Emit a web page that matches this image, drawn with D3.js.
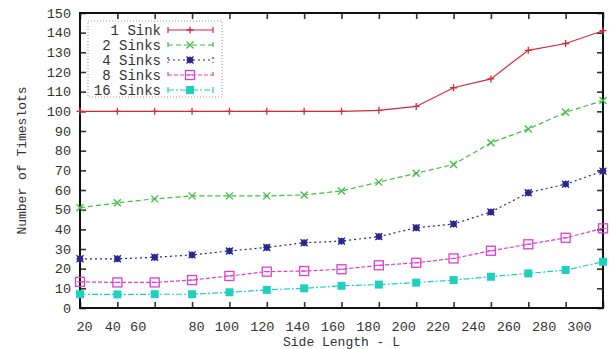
<!DOCTYPE html>
<html>
<head>
<meta charset="utf-8">
<script src="https://cdn.jsdelivr.net/npm/d3@7"></script>
<style>
  body { margin: 0; background: #fff; }
  text { font-family: "Liberation Mono", "DejaVu Sans Mono", monospace; fill: #333; }
</style>
</head>
<body>
<div class="wrapper"></div>
<script>

var xLabels = [20, 40, 60, 80, 100, 120, 140, 160, 180, 200, 220, 240, 260, 280, 300];
var yTicks = d3.range(0, 151, 10);

var seriesNames = ["1 Sink", "2 Sinks", "4 Sinks", "8 Sinks", "16 Sinks"];
var sink1 = [100, 100, 100, 100, 100, 100, 100, 100, 100.5, 102.5, 112, 116.5, 131, 134.5, 141];
var sink2 = [51, 53.5, 55.5, 57, 57, 57, 57.5, 59.5, 64, 68.5, 73, 84, 91, 99.5, 105.5];
var sink4 = [25, 25, 25.8, 27, 29, 30.8, 33.2, 34, 36.3, 40.8, 42.7, 48.8, 58.6, 63, 69.6];
var sink8 = [13.3, 13, 13, 14.2, 16.3, 18.5, 18.8, 19.7, 21.7, 23, 25.2, 29.1, 32.4, 35.7, 40.5];
var sink16 = [7, 6.9, 7, 7, 8, 9.2, 10, 11.3, 11.9, 12.9, 14.2, 15.9, 17.6, 19.3, 23.5];

var colors = ["#d42a3c", "#3fbf3f", "#262690", "#dd3fcf", "#1fd0bf"];
var dashes = ["none", "5,3", "2,3", "4,2", "6,2,2,2"];
var markers = ["plus", "cross", "star", "box", "fbox"];

var WIDTH = 610, HEIGHT = 349;
var margin = {left: 80, right: 7, top: 13, bottom: 41};

var svg = d3.select(".wrapper")
	.append("svg")
		.attr("width", WIDTH)
		.attr("height", HEIGHT);

var x = d3.scalePoint()
	.domain(xLabels)
	.range([margin.left, WIDTH - margin.right]);

var y = d3.scaleLinear()
	.domain([0, 150])
	.range([HEIGHT - margin.bottom, margin.top]);

// axes, ticks pointing inward like gnuplot
var ax = svg.append("g").attr("class", "axes");

var xAxisG = ax.append("g")
	.attr("transform", "translate(0," + y(0) + ")")
	.call(d3.axisBottom(x).tickSizeInner(-6).tickSizeOuter(0).tickPadding(13));

ax.append("g")
	.attr("transform", "translate(0," + y(150) + ")")
	.call(d3.axisTop(x).tickSizeInner(-6).tickSizeOuter(0).tickFormat(""));

ax.append("g")
	.attr("transform", "translate(" + x(20) + ",0)")
	.call(d3.axisLeft(y).tickValues(yTicks).tickSizeInner(-6).tickSizeOuter(0).tickPadding(9));

ax.append("g")
	.attr("transform", "translate(" + x(300) + ",0)")
	.call(d3.axisRight(y).tickValues(yTicks).tickSizeInner(-6).tickSizeOuter(0).tickFormat(""));

ax.selectAll(".tick line").attr("stroke", "#333").attr("stroke-width", 1.6);
ax.selectAll(".domain").remove();
ax.selectAll("text").attr("font-size", 13.5).attr("fill", "#333");

// the original's labels drift left of their ticks
var labelShift = {20: 4, 40: -5, 60: -17, 80: 4, 100: -3, 120: -5, 140: -7, 160: -9,
	180: -11, 200: -13, 220: -16, 240: -18, 260: -20, 280: -22, 300: -24};
xAxisG.selectAll(".tick text")
	.attr("dx", function(d) {return labelShift[d] || 0;});

// frame
svg.append("rect")
	.attr("x", x(20))
	.attr("y", y(150))
	.attr("width", x(300) - x(20))
	.attr("height", y(0) - y(150))
	.attr("fill", "none")
	.attr("stroke", "#111")
	.attr("stroke-width", 2);

// axis titles
svg.append("text")
	.attr("transform", "translate(26," + ((y(0) + y(150)) / 2) + ") rotate(-90)")
	.attr("text-anchor", "middle")
	.attr("font-size", 13)
	.text("Number of Timeslots");

svg.append("text")
	.attr("x", (x(20) + x(300)) / 2)
	.attr("y", 346)
	.attr("text-anchor", "middle")
	.attr("font-size", 13)
	.text("Side Length - L");

function drawMarker(g, type, color) {
	var s = 3.5;
	if (type == "plus") {
		g.append("path").attr("d", "M" + (-s) + ",0H" + s + "M0," + (-s) + "V" + s)
			.attr("stroke", color).attr("stroke-width", 1.3);
	} else if (type == "cross") {
		g.append("path").attr("d", "M" + (-s) + "," + (-s) + "L" + s + "," + s + "M" + (-s) + "," + s + "L" + s + "," + (-s))
			.attr("stroke", color).attr("stroke-width", 1.3);
	} else if (type == "star") {
		g.append("rect").attr("x", -3).attr("y", -3).attr("width", 6).attr("height", 6)
			.attr("fill", color).attr("opacity", 0.85);
		g.append("path").attr("d", "M" + (-s) + "," + (-s) + "L" + s + "," + s + "M" + (-s) + "," + s + "L" + s + "," + (-s) + "M" + (-s) + ",0H" + s + "M0," + (-s) + "V" + s)
			.attr("stroke", color).attr("stroke-width", 1.3);
	} else if (type == "box") {
		g.append("rect").attr("x", -4.5).attr("y", -4.5).attr("width", 9).attr("height", 9)
			.attr("fill", "none").attr("stroke", color).attr("stroke-width", 1.3);
		g.append("path").attr("d", "M-3,0H3").attr("stroke", color).attr("stroke-width", 1);
	} else {
		g.append("rect").attr("x", -4).attr("y", -4).attr("width", 8).attr("height", 8)
			.attr("fill", color);
	}
}

var allSeries = [sink1, sink2, sink4, sink8, sink16];

var line = d3.line()
	.x(function(d, i) {return x(xLabels[i]);})
	.y(function(d) {return y(d);});

allSeries.forEach(function(vals, k) {
	var g = svg.append("g").attr("class", "series");
	g.append("path")
		.attr("d", line(vals))
		.attr("fill", "none")
		.attr("stroke", colors[k])
		.attr("stroke-width", 1.2)
		.attr("stroke-dasharray", dashes[k]);
	vals.forEach(function(v, i) {
		var m = g.append("g").attr("transform", "translate(" + x(xLabels[i]) + "," + y(v) + ")");
		drawMarker(m, markers[k], colors[k]);
	});
});

// legend
var leg = svg.append("g").attr("class", "legend");
leg.append("rect")
	.attr("x", 88).attr("y", 21)
	.attr("width", 134).attr("height", 76)
	.attr("fill", "#fff")
	.attr("stroke", "#999")
	.attr("stroke-width", 1)
	.attr("stroke-dasharray", "1,2");

seriesNames.forEach(function(name, k) {
	var ry = 30 + k * 15;
	leg.append("text")
		.attr("x", 161).attr("y", ry + 5)
		.attr("text-anchor", "end")
		.attr("font-size", 14)
		.text(name);
	leg.append("path")
		.attr("d", "M168," + ry + "H213M168," + (ry - 3) + "V" + (ry + 3) + "M213," + (ry - 3) + "V" + (ry + 3))
		.attr("stroke", colors[k])
		.attr("stroke-width", 1.2)
		.attr("stroke-dasharray", dashes[k]);
	var m = leg.append("g").attr("transform", "translate(190," + ry + ")");
	drawMarker(m, markers[k], colors[k]);
});

</script>
</body>
</html>
